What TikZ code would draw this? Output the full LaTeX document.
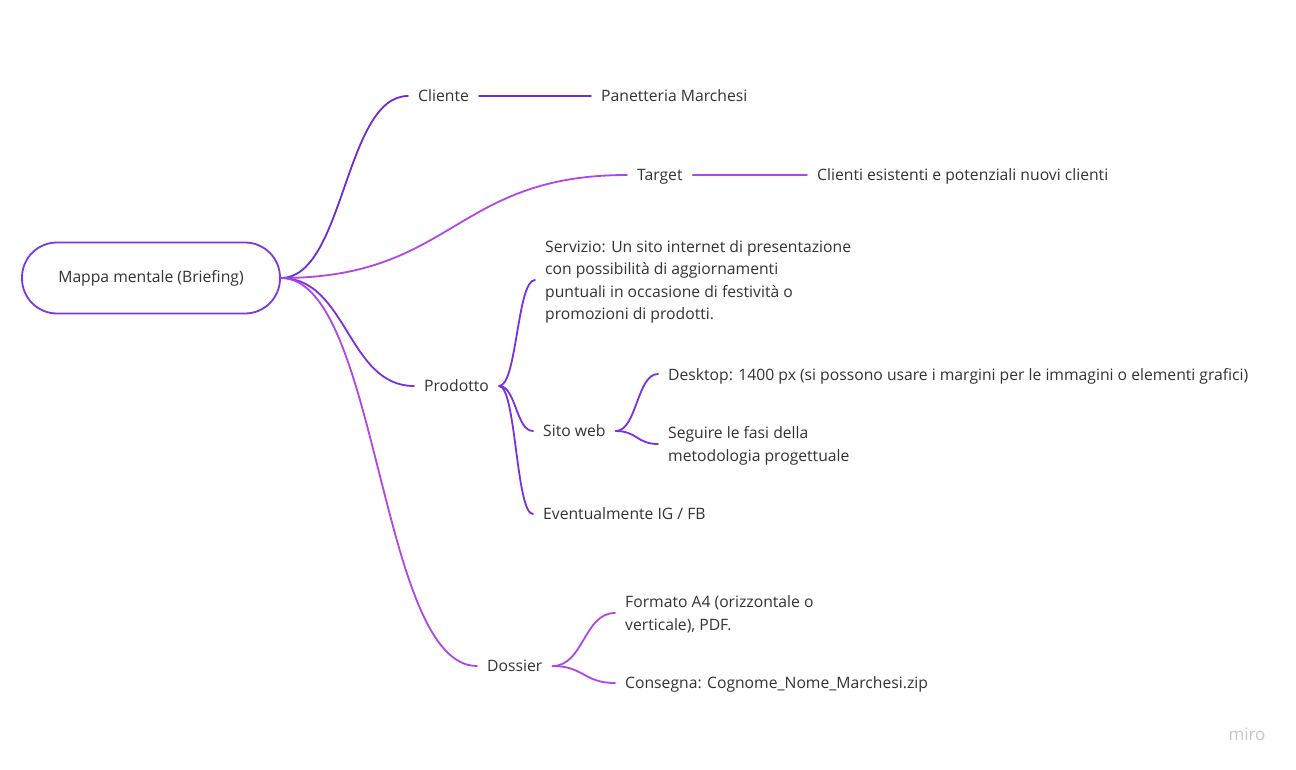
\documentclass[tikz,border=0pt]{standalone}
\usepackage{fontspec}
\setmainfont{Open Sans}
\usetikzlibrary{calc}
\definecolor{txtgrey}{HTML}{333333}
\definecolor{rootcol}{HTML}{7A3ADB}
\definecolor{clientecol}{HTML}{6A2DD6}
\definecolor{targetcol}{HTML}{B146E6}
\definecolor{prodottocol}{HTML}{7B2FE0}
\definecolor{dossiercol}{HTML}{B047E2}
\tikzset{
  txt/.style={anchor=west, inner xsep=10pt, inner ysep=0pt, text depth=0pt, text=txtgrey, align=left},
  link/.style={line width=1.8pt, line cap=round},
  curve/.style={to path={let \p1=(\tikztostart), \p2=(\tikztotarget), \n1={(\x2-\x1)/2} in
      .. controls ([xshift=\n1]\tikztostart) and ([xshift=-\n1]\tikztotarget) .. (\tikztotarget)}}
}
\begin{document}
\begin{tikzpicture}[x=1pt,y=-1pt,font=\fontsize{15.7}{22.6}\selectfont]
  \useasboundingbox[fill=white] (0,0) rectangle (1296,770);

  % Marking the root
  \node [draw=rootcol, line width=1.8pt, rounded corners=35pt, minimum width=258pt,
         minimum height=71pt, text=txtgrey] (root) at (151,278) {Mappa mentale (Briefing)};

  % Marking the first level
  \node [txt] (cliente) at (408,96) {Cliente};
  \node [txt] (target) at (627,175) {Target};
  \node [txt] (prodotto) at (414,386) {Prodotto};
  \node [txt] (dossier) at (477,666) {Dossier};

  % Marking the second level
  \node [txt] (panetteria) at (591,96) {Panetteria Marchesi};
  \node [txt] (clienti) at (807,175) {Clienti esistenti e potenziali nuovi clienti};
  \node [txt] (servizio) at (535,280) {Servizio: Un sito internet di presentazione\\
    con possibilità di aggiornamenti\\ puntuali in occasione di festività o\\ promozioni di prodotti.};
  \node [txt] (sitoweb) at (533,431) {Sito web};
  \node [txt] (eventualmente) at (533,514) {Eventualmente IG / FB};
  \node [txt] (formato) at (615,613) {Formato A4 (orizzontale o\\ verticale), PDF.};
  \node [txt] (consegna) at (615,683) {Consegna: Cognome\_Nome\_Marchesi.zip};

  % Marking the third level
  \node [txt] (desktop) at (658,374) {Desktop: 1400 px (si possono usare i margini per le immagini o elementi grafici)};
  \node [txt] (seguire) at (658,444) {Seguire le fasi della\\ metodologia progettuale};

  % Drawing branch Cliente
  \draw [link, clientecol] (root.east) to [curve] (cliente.west);
  \draw [link, clientecol] (cliente.east) -- (panetteria.west);

  % Drawing branch Target
  \draw [link, targetcol] (root.east) to [curve] (target.west);
  \draw [link, targetcol] (target.east) -- (clienti.west);

  % Drawing branch Prodotto
  \draw [link, prodottocol] (root.east) to [curve] (prodotto.west);
  \draw [link, prodottocol] (prodotto.east) to [curve] (servizio.west);
  \draw [link, prodottocol] (prodotto.east) to [curve] (sitoweb.west);
  \draw [link, prodottocol] (prodotto.east) to [curve] (eventualmente.west);
  \draw [link, prodottocol] (sitoweb.east) to [curve] (desktop.west);
  \draw [link, prodottocol] (sitoweb.east) to [curve] (seguire.west);

  % Drawing branch Dossier
  \draw [link, dossiercol] (root.east) to [curve] (dossier.west);
  \draw [link, dossiercol] (dossier.east) to [curve] (formato.west);
  \draw [link, dossiercol] (dossier.east) to [curve] (consegna.west);

  % Marking the watermark
  \node [text=black!22, font=\fontsize{17}{20}\selectfont] (miro) at (1247,734) {miro};
\end{tikzpicture}
\end{document}
